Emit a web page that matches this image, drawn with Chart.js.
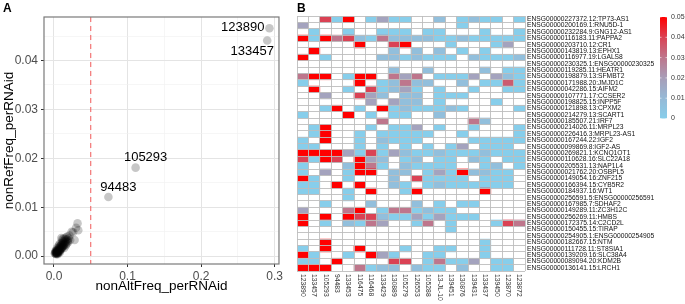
<!DOCTYPE html>
<html>
<head>
<meta charset="utf-8">
<script src="https://cdn.jsdelivr.net/npm/chart.js@4.4.0/dist/chart.umd.min.js"></script>
<style>
body { margin: 0; background: #fff; width: 685px; height: 304px; position: relative; overflow: hidden; font-family: "Liberation Sans", Arial, sans-serif; }
#wrapA { position: absolute; left: 0; top: 0; }
#wrapB { position: absolute; left: 285px; top: 0; }
.tag { position: absolute; top: 2px; font-weight: bold; font-size: 12px; line-height: 12px; }
</style>
</head>
<body>
<div id="wrapA"><canvas id="scatter" width="285" height="304"></canvas></div>
<div id="wrapB"><canvas id="heat" width="400" height="304"></canvas></div>
<div class="tag" style="left:3px">A</div>
<div class="tag" style="left:297px">B</div>
<script>
// ---- panel A data ----
const clusterX = [0.002,0.003,0.003,0.004,0.004,0.005,0.005,0.006,0.006,0.007,0.007,0.008,0.008,0.009,0.009,0.010,0.010,0.011,0.011,0.012,
  0.012,0.013,0.014,0.015,0.016,0.017,0.018,0.019,0.020,0.022,0.002,0.003,0.004,0.005,0.006,0.007,0.008,0.009,0.010,0.011,
  0.012,0.013,0.014,0.015,0.016,0.013,0.011,0.010,0.018,0.021,0.024,0.026,0.028,0.030,0.032,0.033,0.006,0.004,0.003,0.005,
  0.002,0.007,0.009,0.012,0.014,0.016,0.017,0.019,0.006,0.008,0.001,0.002,0.004,0.005,0.003];
const clusterY = [0.0005,0.0006,0.0009,0.0007,0.0011,0.0008,0.0013,0.0010,0.0015,0.0012,0.0017,0.0014,0.0019,0.0016,0.0021,0.0018,0.0023,0.0020,0.0026,0.0022,
  0.0028,0.0025,0.0030,0.0027,0.0032,0.0029,0.0034,0.0031,0.0036,0.0033,0.0008,0.0012,0.0005,0.0010,0.0007,0.0009,0.0011,0.0013,0.0015,0.0017,
  0.0019,0.0021,0.0023,0.0035,0.0038,0.0036,0.0034,0.0037,0.0040,0.0042,0.0050,0.0049,0.0033,0.0058,0.0067,0.0053,0.0020,0.0016,0.0004,0.0004,
  0.0010,0.0024,0.0027,0.0031,0.0017,0.0022,0.0025,0.0028,0.0012,0.0008,0.0006,0.0007,0.0009,0.0006,0.0007];
const labelIds = ['123890', '133457', '105293', '94483'];
const labelX = [0.293, 0.290, 0.111, 0.074];
const labelY = [0.0466, 0.0441, 0.0181, 0.0121];
const cutoff = 0.05;
const xTickValues = [0, 0.1, 0.2, 0.3];
const xTickLabels = ['0.0', '0.1', '0.2', '0.3'];
const xMinor = [0.05, 0.15, 0.25];
const yTickValues = [0, 0.01, 0.02, 0.03, 0.04];
const yTickLabels = ['0.00', '0.01', '0.02', '0.03', '0.04'];
const yMinor = [0.005, 0.015, 0.025, 0.035, 0.045];

// ---- panel B data ----
const colLabels = ['123890','133457','105293','94483','133453','116475','116468','133429','130889','105279',
  '126553','105288','13-JL-10','139451','130876','139431','133437','139450','123870','123872'];
const rowLabels = [
  'ENSG00000227372.12:TP73-AS1','ENSG00000200169.1:RNU5D-1','ENSG00000232284.9:GNG12-AS1','ENSG00000116183.11:PAPPA2',
  'ENSG00000203710.12:CR1','ENSG00000143819.13:EPHX1','ENSG00000116977.19:LGALS8','ENSG00000230325.1:ENSG00000230325',
  'ENSG00000119285.11:HEATR1','ENSG00000198879.13:SFMBT2','ENSG00000171988.20:JMJD1C','ENSG00000042286.15:AIFM2',
  'ENSG00000107771.17:CCSER2','ENSG00000198825.15:INPP5F','ENSG00000121898.13:CPXM2','ENSG00000214279.13:SCART1',
  'ENSG00000185507.21:IRF7','ENSG00000214026.11:MRPL23','ENSG00000226416.3:MRPL23-AS1','ENSG00000167244.22:IGF2',
  'ENSG00000099869.8:IGF2-AS','ENSG00000269821.1:KCNQ1OT1','ENSG00000110628.16:SLC22A18','ENSG00000205531.13:NAP1L4',
  'ENSG00000021762.20:OSBPL5','ENSG00000149054.16:ZNF215','ENSG00000166394.15:CYB5R2','ENSG00000184937.16:WT1',
  'ENSG00000256591.5:ENSG00000256591','ENSG00000167985.7:SDHAF2','ENSG00000149289.11:ZC3H12C','ENSG00000256269.11:HMBS',
  'ENSG00000172375.14:C2CD2L','ENSG00000150455.15:TIRAP','ENSG00000254905.1:ENSG00000254905','ENSG00000182667.15:NTM',
  'ENSG00000111728.11:ST8SIA1','ENSG00000139209.16:SLC38A4','ENSG00000089094.20:KDM2B','ENSG00000136141.15:LRCH1'];
const _ = null; // white cell = no value
const cellValues = [
  [_,_,0.04,0,0.05,_,0,0.018,0,0, _,_,0.007,_,0,0.007,0,0,_,0],
  [0.018,_,_,_,_,_,_,_,_,_, _,_,_,_,0,_,_,_,_,_],
  [_,0,_,_,0,_,_,0,0,0, _,0,0,_,_,_,0,_,_,0],
  [0.05,0,0.05,0.03,0.04,0.007,0,0.03,0.007,0.007, 0.007,0.007,0,0,0.007,0,0,0,0,0],
  [_,_,_,_,_,0.05,_,_,0.04,0.05, _,_,_,0,_,_,_,0,0.018,_],
  [_,0.05,_,_,_,_,_,_,0.007,_, 0.007,_,0.007,_,0,_,0,_,_,_],
  [0.05,_,0,_,_,_,_,0.007,0.007,0, 0.007,0,0,0,_,0.007,0,0,0,0.007],
  [_,_,_,_,_,_,_,_,_,_, _,_,_,_,_,_,_,_,_,_],
  [_,_,_,_,_,_,_,_,0.007,_, _,0.007,_,_,_,_,0.007,_,0,0],
  [0.03,0.05,0.05,_,0,0.05,0.05,_,0.03,0.018, 0.03,_,0,0,0,0.018,_,0.018,0.007,0],
  [0,_,_,_,_,0.05,_,0,0.007,0.03, 0.007,0.007,_,_,0.007,_,0,0,0.035,0],
  [_,0.05,_,_,0,_,0.04,0,0.007,0.018, 0,_,0,_,_,0,_,_,0,0],
  [_,_,0.018,_,_,0.04,0.018,0.007,_,0.007, 0.007,_,0,0,0,_,_,_,_,_],
  [_,_,_,_,_,_,0.018,_,0.018,0.007, 0.007,_,0,_,_,_,_,0,_,_],
  [_,_,0,0.05,_,0,_,0.05,0,0.007, 0,0,0,0.007,0,_,_,_,_,0],
  [0,_,_,_,0.05,_,0,_,0,0, _,_,0.007,_,_,_,_,_,_,_],
  [_,_,_,_,_,_,_,0.03,_,_, _,_,_,_,_,0.03,0.007,_,_,_],
  [_,0,0.05,_,_,_,0,_,0,0, 0.018,_,0,_,_,0,_,_,_,0],
  [_,0,0.05,_,_,0,_,0,0,0, 0,0,_,_,0,_,_,_,_,0],
  [0,_,0.05,_,_,0,_,0.007,0,0, 0,_,_,_,_,0,0,0,0,0],
  [0,0,_,_,_,0,_,0,_,0, _,0,_,0,0.018,_,0,0,0,_],
  [0.05,0.05,0.05,0.05,0.018,0,0.04,0,0.018,0.007, 0,0,0.007,0,0,0,0.007,0,0,0],
  [0.04,0,0.05,0.04,_,0.05,0.018,0.007,_,0, 0.007,_,0,0,_,0.007,0,_,0,0],
  [0,_,_,_,0.007,0.05,0.03,0,_,0.007, 0,0,0,0,_,_,0,0.007,_,0],
  [0,_,0.018,_,0,0.05,0.05,_,0.007,0.007, _,0,0.018,0,0.05,0.007,0.007,0,0,_],
  [0.05,0,_,_,0,_,_,_,0.007,_, 0.04,0,0,0,0,_,0,0,0,_],
  [0,0,_,0.05,_,0.05,_,_,0.007,0, _,0,0.007,0,0,0,0,0,0,_],
  [0,0,_,_,0,_,0.05,_,_,0, 0.05,_,_,_,_,_,0.05,_,_,_],
  [_,_,_,_,0,_,_,_,_,_, _,_,_,_,_,_,_,_,_,_],
  [_,_,0,_,_,_,0.007,_,_,_, 0.007,_,0,_,0,0,_,_,_,_],
  [0.018,_,_,_,0.03,0.05,_,0,0.03,0.03, 0,0.007,0,0,_,_,_,_,_,_],
  [0.05,_,0.05,_,0.05,0.04,0.04,0.007,0,0, 0.018,0,0.018,0,0,0,_,_,_,_],
  [0.05,_,0,_,0.007,0,0.03,0.018,_,_, 0,0.03,_,0,_,_,_,0,0.04,0.03],
  [_,_,_,_,_,_,_,_,_,_, _,_,_,0,_,_,_,_,_,_],
  [_,_,_,_,_,_,_,_,_,_, _,_,_,_,_,_,_,_,_,_],
  [_,_,0.05,_,_,_,_,_,_,_, _,_,_,_,_,_,0,_,_,_],
  [0,_,0.05,_,_,0.05,_,_,_,0, _,_,0,0,_,_,0,_,_,_],
  [0.05,0,_,_,0,_,0.05,0.018,0,_, _,0,0,_,_,_,0,_,_,_],
  [0,0,_,0.05,_,_,_,_,0.04,0.04, _,0,0.03,0,0,0.018,_,0,0,_],
  [0.05,0.05,0.05,_,_,0.03,0,0.007,0.007,_, 0.007,0,0,_,0.007,_,_,0,0,_]
];
const legendTicks = [0, 0.01, 0.02, 0.03, 0.04, 0.05];
const legendLabels = ['0', '0.01', '0.02', '0.03', '0.04', '0.05'];

Chart.defaults.font.family = '"Liberation Sans", Arial, sans-serif';

// colour scale: skyblue -> grey/mauve -> red
const colorStops = [
  [0, [135, 206, 235]], [0.01, [150, 185, 214]], [0.02, [168, 158, 184]],
  [0.03, [190, 118, 140]], [0.04, [218, 66, 84]], [0.05, [255, 0, 0]]
];
function colorFor(v) {
  if (v == null) return 'rgba(0,0,0,0)';
  for (let i = 1; i < colorStops.length; i++) {
    if (v <= colorStops[i][0]) {
      const [a, ca] = colorStops[i - 1], [b, cb] = colorStops[i];
      const t = (v - a) / (b - a);
      const c = ca.map((x, k) => Math.round(x + (cb[k] - x) * t));
      return 'rgb(' + c.join(',') + ')';
    }
  }
  return 'rgb(255,0,0)';
}

const near = (list, v) => list.findIndex(t => Math.abs(t - v) < 1e-9);

// ---------- panel A ----------
const scatterExtras = {
  id: 'scatterExtras',
  beforeDatasetsDraw(chart) {
    const { ctx, chartArea, scales } = chart;
    const x = scales.x.getPixelForValue(cutoff);
    ctx.save();
    ctx.strokeStyle = '#f25a5a';
    ctx.lineWidth = 1;
    ctx.setLineDash([5, 4]);
    ctx.beginPath();
    ctx.moveTo(x, chartArea.top);
    ctx.lineTo(x, chartArea.bottom);
    ctx.stroke();
    ctx.restore();
  },
  afterDraw(chart) {
    const { ctx, chartArea, scales } = chart;
    ctx.save();
    ctx.strokeStyle = '#7a7a7a';
    ctx.lineWidth = 1.2;
    ctx.strokeRect(chartArea.left, chartArea.top, chartArea.right - chartArea.left, chartArea.bottom - chartArea.top);
    // point labels
    const offsets = [[-5, -1, 'right'], [-15, 11, 'center'], [10, -10, 'center'], [10, -10, 'center']];
    ctx.fillStyle = '#000';
    ctx.font = '13px "Liberation Sans", Arial, sans-serif';
    ctx.textBaseline = 'middle';
    labelIds.forEach((id, i) => {
      const px = scales.x.getPixelForValue(labelX[i]);
      const py = scales.y.getPixelForValue(labelY[i]);
      ctx.textAlign = offsets[i][2];
      ctx.fillText(id, px + offsets[i][0], py + offsets[i][1]);
    });
    ctx.restore();
  }
};

function gridOpts(major) {
  return {
    color: c => (c.tick && near(major, c.tick.value) >= 0) ? '#e4e4e4' : '#f0f0f0',
    lineWidth: c => (c.tick && near(major, c.tick.value) >= 0) ? 1 : 0.6,
    tickColor: c => (c.tick && near(major, c.tick.value) >= 0) ? '#333' : 'rgba(0,0,0,0)',
    tickLength: 3
  };
}

new Chart(document.getElementById('scatter'), {
  type: 'scatter',
  data: {
    datasets: [
      { data: clusterX.map((x, i) => ({ x: x, y: clusterY[i] })) },
      { data: labelX.map((x, i) => ({ x: x, y: labelY[i] })) }
    ]
  },
  options: {
    responsive: false,
    animation: false,
    layout: { padding: { top: 17, right: 5, left: 0, bottom: 0 } },
    elements: { point: { radius: 4.3, backgroundColor: 'rgba(0,0,0,0.22)', borderWidth: 0 } },
    plugins: { legend: { display: false }, tooltip: { enabled: false } },
    scales: {
      x: {
        type: 'linear', min: -0.0136, max: 0.306,
        afterBuildTicks: s => { s.ticks = xTickValues.concat(xMinor).sort((a, b) => a - b).map(v => ({ value: v })); },
        afterFit: s => { s.height = 40; },
        grid: gridOpts(xTickValues),
        border: { display: false },
        ticks: {
          autoSkip: false, maxRotation: 0, padding: 2, color: '#4d4d4d', font: { size: 12 },
          callback: v => { const k = near(xTickValues, v); return k >= 0 ? xTickLabels[k] : ''; }
        },
        title: { display: true, text: 'nonAltFreq_perRNAid', color: '#000', font: { size: 13.5 }, padding: { top: 0, bottom: 10 } }
      },
      y: {
        type: 'linear', min: -0.0016, max: 0.0489,
        afterBuildTicks: s => { s.ticks = yTickValues.concat(yMinor).sort((a, b) => a - b).map(v => ({ value: v })); },
        afterFit: s => { s.width = 44; },
        grid: gridOpts(yTickValues),
        border: { display: false },
        ticks: {
          autoSkip: false, padding: 3, color: '#4d4d4d', font: { size: 12 },
          callback: v => { const k = near(yTickValues, v); return k >= 0 ? yTickLabels[k] : ''; }
        },
        title: { display: true, text: 'nonRefFreq_perRNAid', color: '#000', font: { size: 13.5 }, padding: { top: 1, bottom: 0 } }
      }
    }
  },
  plugins: [scatterExtras]
});

// ---------- panel B ----------
const heatDatasets = colLabels.map((c, j) => ({
  label: c,
  data: cellValues.map(row => row[j] == null ? null : [j, j + 1]),
  backgroundColor: cellValues.map(row => colorFor(row[j])),
  borderWidth: 0,
  grouped: false,
  barPercentage: 1,
  categoryPercentage: 1
}));

const heatExtras = {
  id: 'heatExtras',
  afterDraw(chart) {
    const { ctx, chartArea, scales } = chart;
    ctx.save();
    // column labels, rotated to read downward
    ctx.fillStyle = '#333';
    ctx.font = '6.8px "Liberation Sans", Arial, sans-serif';
    ctx.textAlign = 'left';
    ctx.textBaseline = 'middle';
    colLabels.forEach((lab, j) => {
      ctx.save();
      ctx.translate(scales.x.getPixelForValue(j + 0.5), chartArea.bottom + 3);
      ctx.rotate(Math.PI / 2);
      ctx.fillText(lab, 0, 0);
      ctx.restore();
    });
    // colour bar
    const bx = 375, by = 17, bw = 7, bh = 101.5;
    const g = ctx.createLinearGradient(0, by + bh, 0, by);
    colorStops.forEach(s => g.addColorStop(s[0] / 0.05, 'rgb(' + s[1].join(',') + ')'));
    ctx.fillStyle = g;
    ctx.fillRect(bx, by, bw, bh);
    ctx.strokeStyle = '#fff';
    ctx.lineWidth = 0.6;
    ctx.fillStyle = '#333';
    ctx.font = '7px "Liberation Sans", Arial, sans-serif';
    legendTicks.forEach((v, i) => {
      const y = by + bh * (1 - v / 0.05);
      ctx.beginPath();
      ctx.moveTo(bx, y); ctx.lineTo(bx + 1.5, y);
      ctx.moveTo(bx + bw - 1.5, y); ctx.lineTo(bx + bw, y);
      ctx.stroke();
      ctx.fillText(legendLabels[i], bx + bw + 4, y);
    });
    ctx.restore();
  }
};

new Chart(document.getElementById('heat'), {
  type: 'bar',
  data: { labels: rowLabels, datasets: heatDatasets },
  options: {
    indexAxis: 'y',
    responsive: false,
    animation: false,
    layout: { padding: { left: 12, top: 16, bottom: 33, right: 0 } },
    plugins: { legend: { display: false }, tooltip: { enabled: false } },
    scales: {
      x: {
        type: 'linear', min: 0, max: 20,
        ticks: { display: false, stepSize: 1 },
        grid: { color: '#bdbdbd', lineWidth: 0.9, z: 1, drawTicks: false },
        border: { display: false },
        afterFit: s => { s.height = 0; }
      },
      y: {
        type: 'category', position: 'right',
        grid: { offset: true, color: '#bdbdbd', lineWidth: 0.9, z: 1, drawTicks: false },
        border: { display: false },
        ticks: { autoSkip: false, padding: 2, color: '#111', font: { size: 6.7 } },
        afterFit: s => { s.width = 160; }
      }
    }
  },
  plugins: [heatExtras]
});
</script>
</body>
</html>
